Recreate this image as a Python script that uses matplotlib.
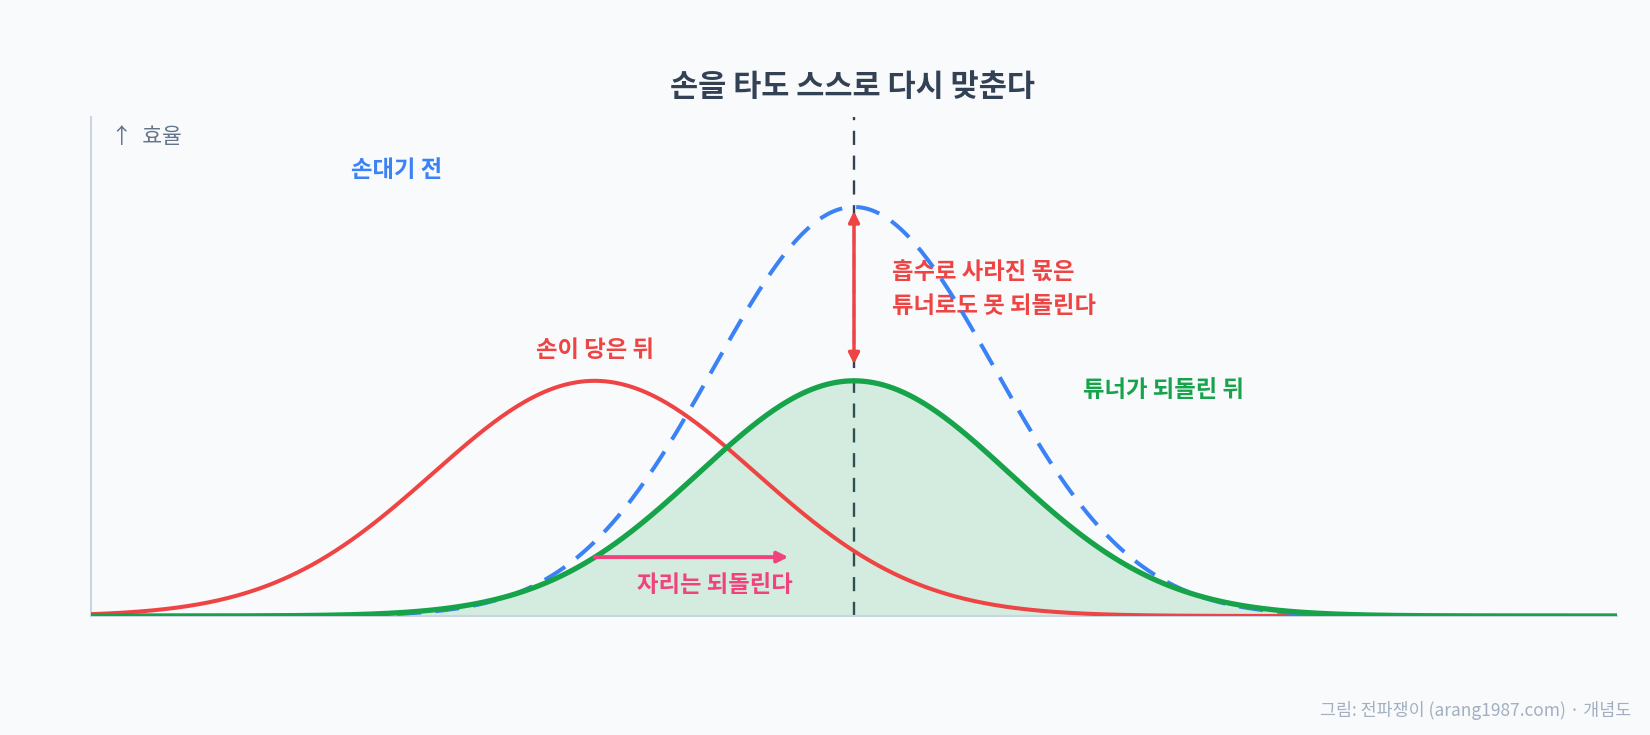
import numpy as np
import matplotlib
matplotlib.use("Agg")
import matplotlib.pyplot as plt

plt.rcParams['font.family'] = ['Noto Sans CJK KR', 'DejaVu Sans']

# bell curves: before touching, after touching, after the tuner
centers = [0.0, -1.7, 0.0]
peaks   = [1.0, 0.575, 0.575]
widths  = [0.92, 1.06, 1.02]
colors  = ['#3b82f6', '#ef4444', '#16a34a']

title  = "손을 타도 스스로 다시 맞춘다"
ylabel = "↑  효율"
labels = ["손대기 전", "손이 당은 뒤", "튜너가 되돌린 뒤"]
lost_note = "흡수로 사라진 몫은\n튜너로도 못 되돌린다"
shift_note = "자리는 되돌린다"
footer = "그림: 전파쟁이 (arang1987.com) · 개념도"

BG = '#f8fafc'
PINK = '#f0437d'
x = np.linspace(-5, 5, 600)

def bell(mu, h, s):
    return h * np.exp(-(x - mu) ** 2 / (2 * s ** 2))

blue_y  = bell(centers[0], peaks[0], widths[0])
red_y   = bell(centers[1], peaks[1], widths[1])
green_y = bell(centers[2], peaks[2], widths[2])

fig = plt.figure(figsize=(16.5, 7.35), dpi=100, facecolor=BG)
ax = fig.add_axes([91 / 1650, 1 - 616 / 735, 1526 / 1650, 499 / 735])
ax.set_facecolor(BG)
ax.set_xlim(-5, 5)
ax.set_ylim(0, 1.22)

ax.axvline(centers[2], color='#334155', lw=1.7, dashes=(6, 4.5), zorder=1)
ax.fill_between(x, 0, green_y, color=colors[2], alpha=0.16, lw=0, zorder=2)
ax.plot(x, red_y, color=colors[1], lw=2.9, zorder=3)
ax.plot(x, blue_y, color=colors[0], lw=2.9, dashes=(6, 3.5), zorder=4)
ax.plot(x, green_y, color=colors[2], lw=3.8, zorder=5)

# lost efficiency: gap between the two peaks
ax.annotate("", xy=(centers[0], peaks[0]), xytext=(centers[2], peaks[2]),
            arrowprops=dict(arrowstyle='<|-|>', color=colors[1], lw=2.5,
                            mutation_scale=16, shrinkA=12, shrinkB=3),
            zorder=6)
# position restored: red center -> green center
ax.annotate("", xy=(-0.43, 0.144), xytext=(centers[1], 0.144),
            arrowprops=dict(arrowstyle='-|>', color=PINK, lw=2.8,
                            mutation_scale=16, shrinkA=0, shrinkB=0),
            zorder=6)

ax.text(0.013, 0.96, ylabel, transform=ax.transAxes, ha='left', va='center',
        fontsize=15.5, color='#64748b')
ax.text(-3.0, 1.09, labels[0], ha='center', va='center', fontsize=16.8,
        fontweight='bold', color=colors[0])
ax.text(-1.7, 0.65, labels[1], ha='center', va='center', fontsize=16.8,
        fontweight='bold', color=colors[1])
ax.text(1.50, 0.553, labels[2], ha='left', va='center', fontsize=16.8,
        fontweight='bold', color=colors[2])
ax.text(0.25, 0.80, lost_note, ha='left', va='center', fontsize=16.8,
        fontweight='bold', color=colors[1], linespacing=1.5)
ax.text(-0.91, 0.076, shift_note, ha='center', va='center', fontsize=16.8,
        fontweight='bold', color=PINK)

for side in ['top', 'right']:
    ax.spines[side].set_visible(False)
for side in ['left', 'bottom']:
    ax.spines[side].set_color('#cbd5e1')
    ax.spines[side].set_linewidth(1.5)
ax.set_xticks([])
ax.set_yticks([])

fig.text(853 / 1650, 1 - 87 / 735, title, ha='center', va='center',
         fontsize=22, fontweight='bold', color='#334155')
fig.text(1631 / 1650, 1 - 710 / 735, footer, ha='right', va='center',
         fontsize=12.5, color='#a3afc0')

fig.savefig("out.png", dpi=100, facecolor=BG)
